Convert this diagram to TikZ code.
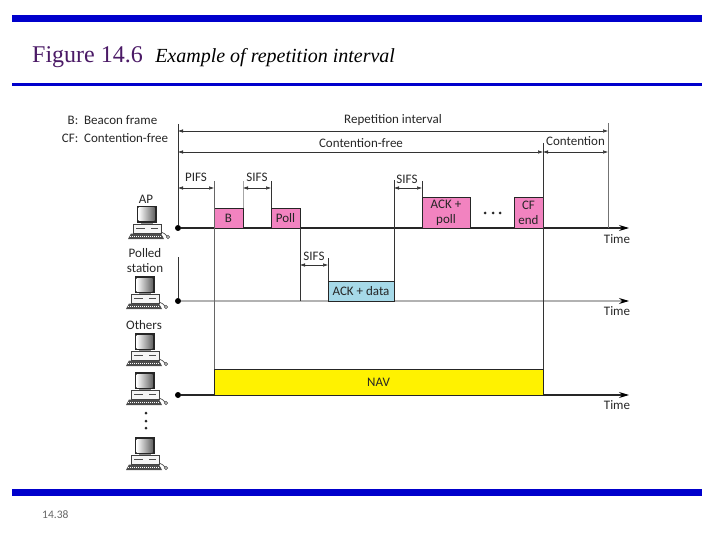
\documentclass[tikz,border=0pt]{standalone}
\usepackage{fontspec}
\setmainfont{Liberation Serif}
\newfontfamily\labelfont{Carlito}
\usetikzlibrary{arrows.meta,positioning}
\definecolor{barblue}{HTML}{0000CC}
\definecolor{titlepurple}{HTML}{4B1A66}
\definecolor{framepink}{HTML}{F283C0}
\definecolor{navyellow}{HTML}{FFF200}
\definecolor{datablue}{HTML}{A6D9E8}
\tikzset{
 lab/.style={align=center,inner sep=0pt,font=\labelfont\fontsize{13}{15}\selectfont,text=black!85},
 framebox/.style={draw=black!85,line width=0.9pt,align=center,inner sep=0pt,outer sep=0pt,anchor=south west,
             font=\labelfont\fontsize{13}{15}\selectfont,text=black!85},
 axis/.style={-{Stealth[length=10pt,width=6pt,color=black]},line width=1.1pt,black!85},
 tick/.style={line width=0.8pt,black!80},
 dim/.style={{Latex[length=5pt,width=3.5pt]}-{Latex[length=5pt,width=3.5pt]},line width=0.5pt,black!80},
 origin/.style={circle,fill=black,inner sep=0pt,minimum size=6pt},
 bigdot/.style={circle,fill=black!85,inner sep=0pt,minimum size=3pt},
 bar/.style={fill=barblue,draw=none,inner sep=0pt,anchor=north west},
 computer/.pic={
  \fill[black!85] (0,0) rectangle (20,17);
  \shade[left color=white,right color=black!60] (1.5,2) rectangle (17.5,15);
  \fill[black!45] (4,17) rectangle (16,18.5);
  \draw[black!75,fill=black!4,line width=0.6pt] (-4,18.5) rectangle (24,27);
  \draw[black!70,line width=0.9pt] (-1,22) -- (8,22);
  \draw[black!70,line width=0.9pt] (14,22) -- (21,22);
  \fill[black!70] (-6,27.5) -- (24,27.5) -- (27,33) -- (-9,33) -- cycle;
  \draw[white,line width=0.5pt,dash pattern=on 1pt off 1pt] (-7,30) -- (25,30);
  \draw[black!70,line width=0.7pt] (24,26) .. controls (27,26) and (28,29) .. (30,30);
  \draw[black!70,line width=0.6pt] (31,31) circle (1.6);
 }
}
\begin{document}
\begin{tikzpicture}[x=1pt,y=-1pt]
\useasboundingbox (0,0) rectangle (720,540);
\node[bar,minimum width=690pt,minimum height=7pt] (topbar) at (12,15) {};
\node[bar,minimum width=690pt,minimum height=3pt] (midbar) at (12,83) {};
\node[bar,minimum width=690pt,minimum height=7pt] (footbar) at (12,489) {};
\node[anchor=base west,inner sep=0pt,text=titlepurple,font=\fontsize{24}{26}\selectfont] (figtitle) at (32,63) {Figure 14.6};
\node[base right=12pt of figtitle,inner sep=0pt,font=\itshape\fontsize{20}{24}\selectfont] (figcaption) {Example of repetition interval};
\node[anchor=base west,inner sep=0pt,text=black!60,font=\labelfont\fontsize{11.5}{13}\selectfont] (pageno) at (42,518) {14.38};

\node[lab] (legendb) at (112.5,120) {B:~~Beacon frame};
\node[lab] (legendcf) at (115,138) {CF:~~Contention-free};

\node[origin] (apdot) at (178,228) {};
\node[origin] (polleddot) at (178,301) {};
\node[origin] (othersdot) at (178,395) {};
\coordinate (apend) at (629,228);
\coordinate (polledend) at (629,301);
\coordinate (othersend) at (629,395);

\draw[axis] (apdot) -- (apend);
\draw[axis,black!30] (polleddot) -- (polledend);
\draw[axis] (othersdot) -- (othersend);

\node[framebox,fill=framepink,minimum width=29pt,minimum height=20pt] (beacon) at (214,228) {B};
\node[framebox,fill=framepink,minimum width=29pt,minimum height=20pt] (poll) at (271,228) {Poll};
\node[framebox,fill=framepink,minimum width=48pt,minimum height=31pt] (ackpoll) at (422,228) {ACK +\\poll};
\node[framebox,fill=framepink,minimum width=29pt,minimum height=31pt] (cfend) at (514,228) {CF\\end};
\node[framebox,fill=datablue,minimum width=66pt,minimum height=20pt] (ackdata) at (328,301) {ACK + data};
\node[framebox,fill=navyellow,minimum width=329pt,minimum height=26pt] (nav) at (214,395) {NAV};

\coordinate (reptop) at (178,124);
\coordinate (repright) at (608,123);
\coordinate (cfright) at (543,143);
\coordinate (pifsright) at (214,181);
\coordinate (sifsaleft) at (243,181);
\coordinate (sifsaright) at (271,181);
\coordinate (sifscleft) at (394,180);
\coordinate (sifscright) at (422,181);
\coordinate (sifsbright) at (328,258);
\coordinate (reprow) at (0,131);
\coordinate (cfrow) at (0,152);
\coordinate (sifsrow) at (0,188);
\coordinate (sifsbrow) at (0,265);

\draw[tick] (reptop) -- (apdot);
\draw[tick] (polleddot) -- ++(0,-44);
\draw[tick,black!55] (repright) -- (repright |- apdot);
\draw[tick,line width=1pt] (cfright) -- (nav.north east);
\draw[tick,black!60] (pifsright) -- (nav.north west);
\draw[tick,black!35] (sifsaleft) -- (beacon.north east);
\draw[tick] (sifsaright) -- (poll.north west);
\draw[tick] (sifscleft) -- (ackdata.north east);
\draw[tick] (sifscright) -- (ackpoll.north west);
\draw[tick] (sifsbright) -- (ackdata.north west);
\draw[tick] (poll.south east) -- (poll.south east |- polleddot);

\draw[dim] (apdot |- reprow) -- (repright |- reprow);
\draw[dim] (apdot |- cfrow) -- (cfright |- cfrow);
\draw[dim] (cfright |- cfrow) -- (repright |- cfrow);
\draw[dim] (apdot |- sifsrow) -- (pifsright |- sifsrow);
\draw[dim] (sifsaleft |- sifsrow) -- (sifsaright |- sifsrow);
\draw[dim] (sifscleft |- sifsrow) -- (sifscright |- sifsrow);
\draw[dim] (poll.south east |- sifsbrow) -- (sifsbright |- sifsbrow);

\node[lab] (replabel) at (393,120) {Repetition interval};
\node[lab] (cflabel) at (361,143) {Contention-free};
\node[lab] (contlabel) at (575.5,141) {Contention};
\node[lab] (pifslabel) at (196,177) {PIFS};
\node[lab] (sifsalabel) at (257,177) {SIFS};
\node[lab] (sifsclabel) at (407,179) {SIFS};
\node[lab] (sifsblabel) at (314,256) {SIFS};
\node[lab] (timea) at (617,239) {Time};
\node[lab] (timeb) at (617,311) {Time};
\node[lab] (timec) at (617,405) {Time};

\node[lab] (aplabel) at (146,199) {AP};
\node[lab] (polledlabel) at (145,261) {Polled\\station};
\node[lab] (otherslabel) at (144,325) {Others};

\pic (apcomputer) at (137,206) {computer};
\foreach \name/\ypos in {polled/276,otherstop/333,othersmid/372,otherslast/437}
  \pic (\name) at (135,\ypos) {computer};
\foreach \i/\ypos in {1/413,2/421,3/428}
  \node[bigdot] (columndot\i) at (146,\ypos) {};
\foreach \i/\xpos in {1/485,2/493,3/500}
  \node[bigdot] (framedot\i) at (\xpos,213) {};
\end{tikzpicture}
\end{document}
